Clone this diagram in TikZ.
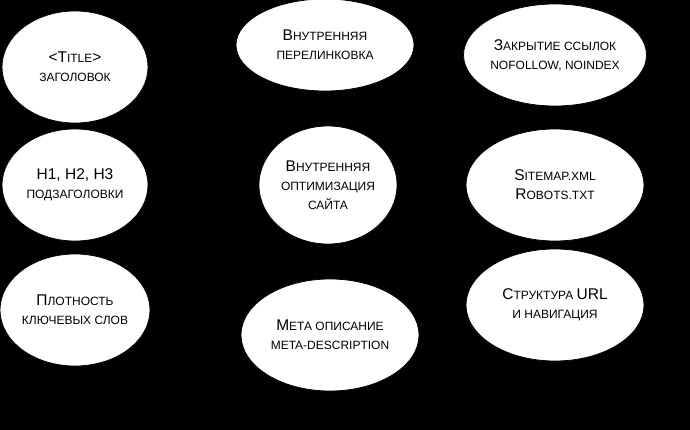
\documentclass[tikz,border=0pt]{standalone}
\usepackage{fontspec}
\setmainfont{Liberation Sans}
\usetikzlibrary{shapes.geometric}
\newcommand{\bg}[1]{{\fontsize{15.5}{19}\selectfont #1}}
\newcommand{\sm}[1]{{\fontsize{12}{19}\selectfont #1}}
\tikzset{every picture/.style={line width=0.75pt}}
\tikzset{oval/.style={ellipse,draw=black,fill=white,align=center,inner sep=0pt,font=\fontsize{12}{19}\selectfont}}
\begin{document}
\begin{tikzpicture}[x=1pt,y=1pt,yscale=-1]
\fill[black] (0,0) rectangle (690,430);
\useasboundingbox (0,0) rectangle (690,430);

% top row
\node[oval,minimum width=146,minimum height=112] (title) at (75,67) {\bg{<T}\sm{ITLE}\bg{>}\\\sm{ЗАГОЛОВОК}};
\node[oval,minimum width=178,minimum height=92] (links) at (325,45) {\bg{В}\sm{НУТРЕННЯЯ}\\\sm{ПЕРЕЛИНКОВКА}};
\node[oval,minimum width=178,minimum height=102] (close) at (555,55) {\bg{З}\sm{АКРЫТИЕ ССЫЛОК}\\\sm{NOFOLLOW, NOINDEX}};
% middle row
\node[oval,minimum width=146,minimum height=112] (heads) at (75,185) {\bg{H1, H2, H3}\\\sm{ПОДЗАГОЛОВКИ}};
\node[oval,minimum width=138,minimum height=118] (main) at (328,185) {\bg{В}\sm{НУТРЕННЯЯ}\\\sm{ОПТИМИЗАЦИЯ}\\\sm{САЙТА}};
\node[oval,minimum width=178,minimum height=112] (sitemap) at (555,185) {\bg{S}\sm{ITEMAP.XML}\\\bg{R}\sm{OBOTS.TXT}};
% bottom row
\node[oval,minimum width=146,minimum height=112] (density) at (75,310) {\bg{П}\sm{ЛОТНОСТЬ}\\\sm{КЛЮЧЕВЫХ СЛОВ}};
\node[oval,minimum width=178,minimum height=112] (meta) at (330,335) {\bg{М}\sm{ЕТА ОПИСАНИЕ}\\\sm{META-DESCRIPTION}};
\node[oval,minimum width=178,minimum height=112] (url) at (555,305) {\bg{С}\sm{ТРУКТУРА }\bg{URL}\\\sm{И НАВИГАЦИЯ}};
\end{tikzpicture}
\end{document}
